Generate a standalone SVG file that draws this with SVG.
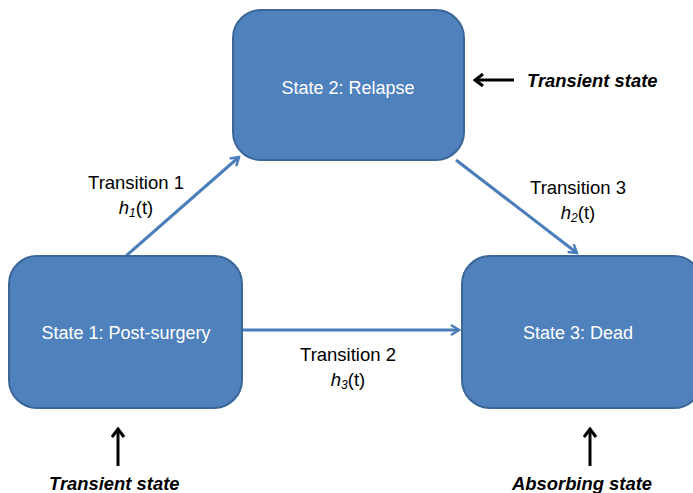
<svg xmlns="http://www.w3.org/2000/svg" width="693" height="493" viewBox="0 0 693 493">
<style>
.box{fill:#4F81BD;stroke:#3B6698;stroke-width:2}
.st{font-family:"Liberation Sans",Arial,sans-serif;font-size:18px;fill:#fff;text-anchor:middle}
.lb{font-family:"Liberation Sans",Arial,sans-serif;font-size:18.5px;fill:#000;text-anchor:middle}
.it{font-style:italic}
.note{font-family:"Liberation Sans",Arial,sans-serif;font-size:18.4px;font-weight:bold;font-style:italic;fill:#000}
.conn{stroke:#4A7EBB;stroke-width:3;fill:none}
.blk{stroke:#000;stroke-width:3;fill:none}
</style>
<defs>
<marker id="ab" viewBox="0 0 12 12" refX="10" refY="6" markerWidth="12" markerHeight="12" markerUnits="userSpaceOnUse" orient="auto">
<path d="M2,1 L10,6 L2,11" fill="none" stroke="#4A7EBB" stroke-width="2.5"/>
</marker>
<marker id="ak" viewBox="0 0 12 14" refX="10" refY="7" markerWidth="12" markerHeight="14" markerUnits="userSpaceOnUse" orient="auto">
<path d="M2,1 L10,7 L2,13" fill="none" stroke="#000" stroke-width="3"/>
</marker>
</defs>
<g id="connectors">
<line class="conn" x1="126" y1="256" x2="239" y2="157" marker-end="url(#ab)"/>
<line class="conn" x1="456" y1="160" x2="577" y2="253" marker-end="url(#ab)"/>
<line class="conn" x1="242" y1="330" x2="459" y2="330" marker-end="url(#ab)"/>
<line class="blk" x1="514" y1="80" x2="475" y2="80" marker-end="url(#ak)"/>
<line class="blk" x1="118" y1="466" x2="118" y2="429" marker-end="url(#ak)"/>
<line class="blk" x1="590" y1="466" x2="590" y2="429" marker-end="url(#ak)"/>
</g>
<g id="state2">
<rect class="box" x="233" y="10" width="231" height="150" rx="28"/>
<text class="st" x="348" y="94">State 2: Relapse</text>
</g>
<g id="state1">
<rect class="box" x="9" y="256" width="233" height="152" rx="28"/>
<text class="st" x="126" y="339">State 1: Post-surgery</text>
</g>
<g id="state3">
<rect class="box" x="462" y="256" width="240" height="152" rx="28"/>
<text class="st" x="578" y="339">State 3: Dead</text>
</g>
<g id="labels">
<text class="lb" x="136" y="189">Transition 1</text>
<text class="lb" x="136" y="214"><tspan class="it">h</tspan><tspan class="it" font-size="12" dy="3">1</tspan><tspan dy="-3">(t)</tspan></text>
<text class="lb" x="578" y="194">Transition 3</text>
<text class="lb" x="578" y="219"><tspan class="it">h</tspan><tspan class="it" font-size="12" dy="3">2</tspan><tspan dy="-3">(t)</tspan></text>
<text class="lb" x="348" y="361">Transition 2</text>
<text class="lb" x="348" y="386"><tspan class="it">h</tspan><tspan class="it" font-size="12" dy="3">3</tspan><tspan dy="-3">(t)</tspan></text>
</g>
<g id="notes">
<text class="note" x="527" y="87">Transient state</text>
<text class="note" x="49" y="490">Transient state</text>
<text class="note" x="512" y="490">Absorbing state</text>
</g>
</svg>
